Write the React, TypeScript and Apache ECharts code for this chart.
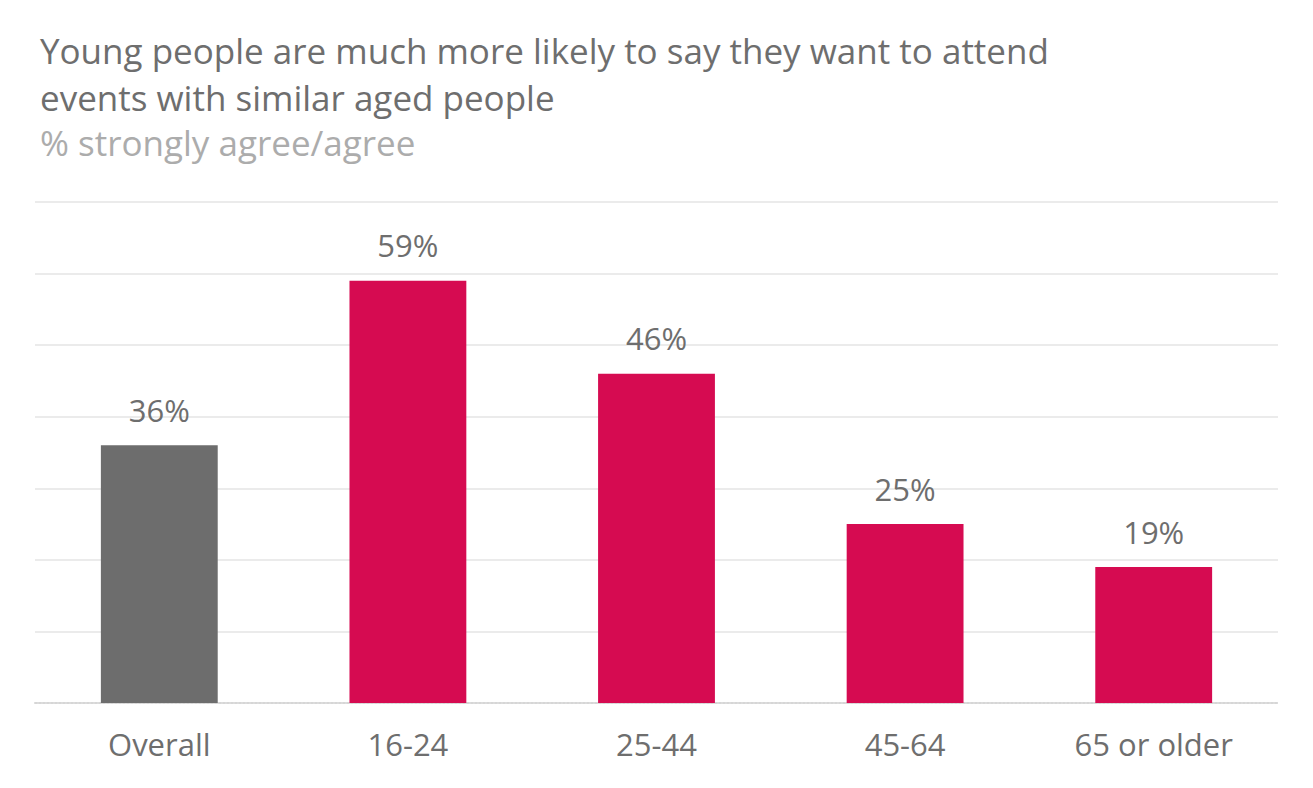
import React, { useEffect, useRef } from "react";
import * as echarts from "echarts";

const categories = ["Overall", "16-24", "25-44", "45-64", "65 or older"];
const values = [36, 59, 46, 25, 19];
const barColors = ["#6d6d6d", "#d60b51", "#d60b51", "#d60b51", "#d60b51"];
const titleLines = ["Young people are much more likely to say they want to attend", "events with similar aged people"];
const subtitle = "% strongly agree/agree";

export default function App() {
  const ref = useRef<HTMLDivElement>(null);
  useEffect(() => {
    document.body.style.margin = "0";
    const chart = echarts.init(ref.current!, null, { renderer: "svg" });
    const font = "'Open Sans', 'Noto Sans', sans-serif";
    chart.setOption({
      animation: false,
      backgroundColor: "#ffffff",
      textStyle: { fontFamily: font },
      title: {
        left: 35,
        top: 22,
        text: titleLines.join("\n"),
        subtext: subtitle,
        itemGap: -2,
        textStyle: { fontFamily: font, fontSize: 35, fontWeight: "normal", color: "#6e6e6e", lineHeight: 47 },
        subtextStyle: { fontFamily: font, fontSize: 35, color: "#acacac", lineHeight: 47 },
      },
      grid: { left: 35, right: 35, top: 202, bottom: 85, containLabel: false },
      xAxis: {
        type: "category",
        data: categories,
        axisLine: { show: true, lineStyle: { color: "#d6d6d6", width: 2, type: "dotted" } },
        axisTick: { show: false },
        axisLabel: { fontFamily: font, fontSize: 31, color: "#6e6e6e", margin: 25 },
      },
      yAxis: {
        type: "value",
        min: 0,
        max: 70,
        interval: 10,
        axisLabel: { show: false },
        axisLine: { show: false },
        axisTick: { show: false },
        splitLine: { lineStyle: { color: "#ebebeb", width: 2 } },
      },
      series: [
        {
          type: "bar",
          barWidth: "47%",
          data: values.map((v, i) => ({ value: v, itemStyle: { color: barColors[i] } })),
          label: {
            show: true,
            position: "top",
            distance: 20,
            formatter: "{c}%",
            fontFamily: font,
            fontSize: 31,
            color: "#6e6e6e",
          },
        },
      ],
    });
    return () => chart.dispose();
  }, []);
  return <div ref={ref} style={{ width: 1313, height: 788 }} />;
}
